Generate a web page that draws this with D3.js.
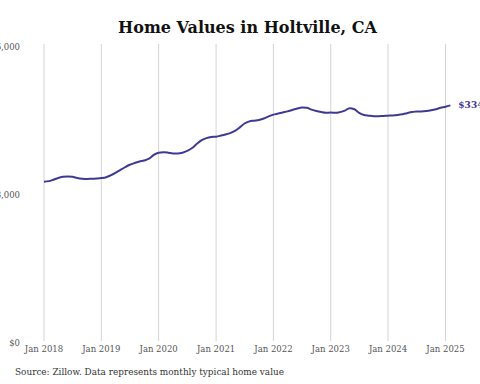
<!DOCTYPE html>
<html>
<head>
<meta charset="utf-8">
<script src="https://cdn.jsdelivr.net/npm/d3@7"></script>
<style>
  body { margin: 0; background: #fff; }
  svg { display: block; }
</style>
</head>
<body>
<div id="chart"></div>
<script>
// monthly typical home value, Jan 2018 .. Feb 2025 (in $)
const startMonth = "2018-01";
const homeValues = [
  226700, 227500, 229500, 232000, 233500, 234000, 233500, 232000, 231000, 230500, 230800, 231200,
  231800, 233000, 235500, 239000, 243000, 247000, 250500, 253000, 255000, 256500, 259000, 264500,
  267500, 268000, 267500, 266500, 266500, 267500, 270000, 274000, 280000, 285000, 288000, 289500,
  290000, 291500, 293000, 295000, 298000, 303000, 308500, 311500, 312500, 313500, 315500, 318500,
  321000, 322500, 324000, 325500, 327500, 329500, 331000, 330500, 328000, 326000, 324500, 323500,
  324000, 323500, 324500, 326500, 330000, 328500, 323500, 320500, 319500, 318800, 318800, 319200,
  319500, 319800, 320500, 321500, 323000, 324500, 325500, 325500, 326000, 327000, 328500, 330500,
  332000, 334000
];
const yTicks = [0, 208000, 416000];
const yearTicks = [2018, 2019, 2020, 2021, 2022, 2023, 2024, 2025];
const lastLabel = "$334,012";

const width = 480;
const height = 384;
const serif = "'DejaVu Serif', serif";

const parse = d3.timeParse("%Y-%m");
const t0 = parse(startMonth);
const data = homeValues.map((v, i) => ({ date: d3.timeMonth.offset(t0, i), value: v }));

const svg = d3.select("#chart")
  .append("svg")
  .attr("width", width)
  .attr("height", height);

const x = d3.scaleTime()
  .domain([new Date(2018, 0, 1), new Date(2025, 0, 1)])
  .range([44, 445.5]);

const y = d3.scaleLinear()
  .domain([0, 416000])
  .range([343, 47]);

// title
svg.append("text")
  .attr("x", 247.5)
  .attr("y", 33)
  .attr("text-anchor", "middle")
  .attr("font-family", serif)
  .attr("font-weight", "bold")
  .attr("font-size", 16)
  .attr("fill", "#111")
  .text("Home Values in Holtville, CA");

// vertical gridlines
svg.append("g")
  .selectAll("line")
  .data(yearTicks)
  .enter()
  .append("line")
  .attr("x1", d => x(new Date(d, 0, 1)))
  .attr("x2", d => x(new Date(d, 0, 1)))
  .attr("y1", 44)
  .attr("y2", 341)
  .attr("stroke", "#d4d4d4")
  .attr("stroke-width", 1);

// x labels
svg.append("g")
  .selectAll("text")
  .data(yearTicks)
  .enter()
  .append("text")
  .attr("x", d => x(new Date(d, 0, 1)))
  .attr("y", 352)
  .attr("text-anchor", "middle")
  .attr("font-family", serif)
  .attr("font-size", 8.5)
  .attr("fill", "#555")
  .text(d => "Jan " + d);

// y labels
svg.append("g")
  .selectAll("text")
  .data(yTicks)
  .enter()
  .append("text")
  .attr("x", 20)
  .attr("y", d => y(d) + 3)
  .attr("text-anchor", "end")
  .attr("font-family", serif)
  .attr("font-size", 8.5)
  .attr("fill", "#555")
  .text(d => d3.format("$,")(d));

// line
const line = d3.line()
  .x(d => x(d.date))
  .y(d => y(d.value))
  .curve(d3.curveMonotoneX);

svg.append("path")
  .datum(data)
  .attr("fill", "none")
  .attr("stroke", "#3e3a94")
  .attr("stroke-width", 2)
  .attr("d", line);

const last = data[data.length - 1];
svg.append("text")
  .attr("x", x(last.date) + 8)
  .attr("y", y(last.value) + 3)
  .attr("font-family", serif)
  .attr("font-weight", "bold")
  .attr("font-size", 9)
  .attr("fill", "#3e3a94")
  .text(lastLabel);

// source
svg.append("text")
  .attr("x", 15)
  .attr("y", 375)
  .attr("font-family", serif)
  .attr("font-size", 8.9)
  .attr("fill", "#333")
  .text("Source: Zillow. Data represents monthly typical home value");
</script>
</body>
</html>
